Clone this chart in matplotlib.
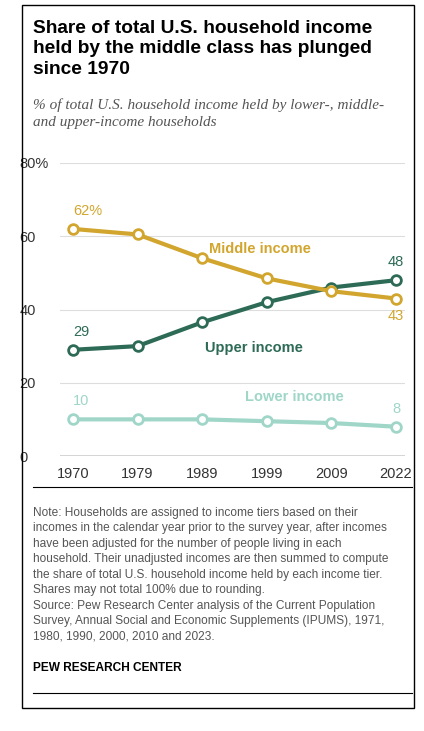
import matplotlib
matplotlib.use("Agg")
import matplotlib.pyplot as plt
from matplotlib.lines import Line2D

years = ["1970", "1979", "1989", "1999", "2009", "2022"]
middle = [62, 60.5, 54, 48.5, 45, 43]
upper = [29, 30, 36.5, 42, 46, 48]
lower = [10, 10, 10, 9.5, 9, 8]
yticks = [0, 20, 40, 60, 80]
ytick_labels = ["0", "20", "40", "60", "80%"]

W, H = 424, 731
fig = plt.figure(figsize=(W/100, H/100), dpi=100)
fig.patch.set_facecolor("white")

def fx(x): return x / W
def fy(y): return 1 - y / H

fig.add_artist(plt.Rectangle((fx(22), fy(708)), fx(414) - fx(22), fy(5) - fy(708),
               transform=fig.transFigure, fill=False, ec="black", lw=1.0))

fig.text(fx(33), fy(20), "Share of total U.S. household income\nheld by the middle class has plunged\nsince 1970",
         fontsize=13.8, fontweight="bold", va="top", ha="left", linespacing=1.25, family="Liberation Sans")
fig.text(fx(33), fy(98), "% of total U.S. household income held by lower-, middle-\nand upper-income households",
         fontsize=11, style="italic", va="top", ha="left", color="#555555", family="Liberation Serif", linespacing=1.45)

ax = fig.add_axes([fx(60), fy(456), fx(405) - fx(60), fy(163) - fy(456)])
x = list(range(len(years)))
cM, cU, cL = "#d2a62e", "#2e6b57", "#9fd6c8"
for vals, c in [(lower, cL), (upper, cU), (middle, cM)]:
    ax.plot(x, vals, color=c, lw=3, marker="o", ms=7, mfc="white", mec=c, mew=2, zorder=3)
ax.set_xlim(-0.2, 5.14)
ax.set_ylim(0, 80)
ax.set_yticks(yticks)
ax.set_yticklabels(ytick_labels, family="Liberation Sans")
ax.set_xticks(x)
ax.set_xticklabels(years, family="Liberation Sans")
ax.grid(axis="y", color="#dddddd", lw=0.8)
for s in ax.spines.values():
    s.set_visible(False)
ax.axhline(0, color="#333333", lw=1)
ax.tick_params(length=0, labelsize=10.5, colors="#333333")
ax.tick_params(axis="y", pad=12)
for lab in ax.get_yticklabels():
    lab.set_ha("left")
    lab.set_x(-0.07)
ax.tick_params(axis="x", pad=8)

kw = dict(fontsize=10.5, family="Liberation Sans")
ax.text(0, middle[0] + 3, "62%", color=cM, ha="left", va="bottom", **kw)
ax.text(5, middle[5] - 3, "43", color=cM, ha="center", va="top", **kw)
ax.text(0, upper[0] + 3, "29", color=cU, ha="left", va="bottom", **kw)
ax.text(5, upper[5] + 3, "48", color=cU, ha="center", va="bottom", **kw)
ax.text(0, lower[0] + 3, "10", color=cL, ha="left", va="bottom", **kw)
ax.text(5, lower[5] + 3, "8", color=cL, ha="center", va="bottom", **kw)
ax.text(2.1, 56.5, "Middle income", color=cM, fontweight="bold", va="center", **kw)
ax.text(2.04, 29.5, "Upper income", color=cU, fontweight="bold", va="center", **kw)
ax.text(2.66, 16, "Lower income", color=cL, fontweight="bold", va="center", **kw)

fig.add_artist(Line2D([fx(33), fx(412)], [fy(487), fy(487)], color="black", lw=0.8, transform=fig.transFigure))
fig.add_artist(Line2D([fx(33), fx(412)], [fy(693), fy(693)], color="black", lw=0.8, transform=fig.transFigure))

note = ("Note: Households are assigned to income tiers based on their\n"
        "incomes in the calendar year prior to the survey year, after incomes\n"
        "have been adjusted for the number of people living in each\n"
        "household. Their unadjusted incomes are then summed to compute\n"
        "the share of total U.S. household income held by each income tier.\n"
        "Shares may not total 100% due to rounding.\n"
        "Source: Pew Research Center analysis of the Current Population\n"
        "Survey, Annual Social and Economic Supplements (IPUMS), 1971,\n"
        "1980, 1990, 2000, 2010 and 2023.")
fig.text(fx(33), fy(507), note, fontsize=8.6, va="top", ha="left", color="#555555",
         linespacing=1.38, family="Liberation Sans")
fig.text(fx(33), fy(662), "PEW RESEARCH CENTER", fontsize=8.6, fontweight="bold", va="top", ha="left",
         family="Liberation Sans")

fig.savefig("out.png", dpi=100)
